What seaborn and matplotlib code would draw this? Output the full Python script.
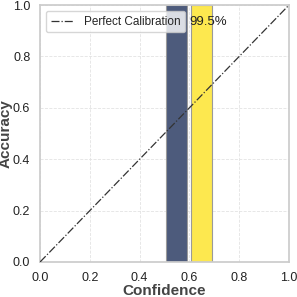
import matplotlib
matplotlib.use("Agg")
import matplotlib.pyplot as plt
import seaborn as sns
import numpy as np

sns.set_theme(style="whitegrid")
plt.rcParams['font.family'] = ['Liberation Sans', 'DejaVu Sans']

bin_lefts = [0.505, 0.605]
bin_heights = [1.0, 1.0]
bin_colors = ["#4d5b7c", "#fde84f"]
label_text = "99.5%"
ticks = [0.0, 0.2, 0.4, 0.6, 0.8, 1.0]

fig, ax = plt.subplots(figsize=(2.97, 2.97), dpi=100)
fig.subplots_adjust(left=0.135, right=0.973, top=0.983, bottom=0.118)

for l, h, c in zip(bin_lefts, bin_heights, bin_colors):
    ax.bar(l, h, width=0.085, align='edge', color=c, edgecolor='#9a9a9a', linewidth=0.8, zorder=2)

ax.plot([0, 1], [0, 1], linestyle='-.', color='#333333', linewidth=0.9, label='Perfect Calibration', zorder=3)
ax.text(0.6, 0.935, label_text, ha='left', va='center', fontsize=9.5, color='#222222', zorder=4)

ax.set_xlim(0, 1)
ax.set_ylim(0, 1)
ax.set_xticks(ticks)
ax.set_yticks(ticks)
ax.tick_params(labelsize=9, pad=1, colors='#222222')
ax.set_xlabel('Confidence', fontsize=11, fontweight='bold', color='#444444', labelpad=0)
ax.set_ylabel('Accuracy', fontsize=11, fontweight='bold', color='#444444', labelpad=0)
ax.grid(True, linestyle='--', color='#e3e3e3', linewidth=0.6)
for s in ax.spines.values():
    s.set_color('#cccccc')
ax.legend(loc='upper left', fontsize=8.5, frameon=True, handlelength=2)
fig.savefig('out.png', dpi=100)
